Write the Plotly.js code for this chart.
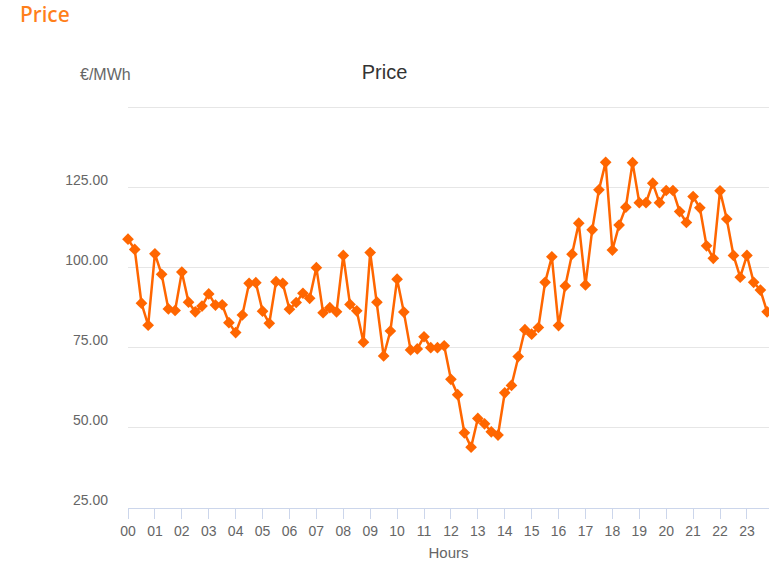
<!DOCTYPE html>
<html>
<head>
<meta charset="utf-8">
<script src="https://cdn.plot.ly/plotly-3.0.1.min.js"></script>
<style>html,body{margin:0;padding:0;background:#fff;}#chart{width:769px;height:561px;}</style>
</head>
<body>
<div id="chart"></div>
<script>
// Hour tick labels
var hourLabels = ['00','01','02','03','04','05','06','07','08','09','10','11',
                  '12','13','14','15','16','17','18','19','20','21','22','23'];
var hourTicks = [0,1,2,3,4,5,6,7,8,9,10,11,12,13,14,15,16,17,18,19,20,21,22,23];

// Quarter-hour slot positions (hours)
var slots = [
  0,0.25,0.5,0.75, 1,1.25,1.5,1.75, 2,2.25,2.5,2.75, 3,3.25,3.5,3.75,
  4,4.25,4.5,4.75, 5,5.25,5.5,5.75, 6,6.25,6.5,6.75, 7,7.25,7.5,7.75,
  8,8.25,8.5,8.75, 9,9.25,9.5,9.75, 10,10.25,10.5,10.75, 11,11.25,11.5,11.75,
  12,12.25,12.5,12.75, 13,13.25,13.5,13.75, 14,14.25,14.5,14.75, 15,15.25,15.5,15.75,
  16,16.25,16.5,16.75, 17,17.25,17.5,17.75, 18,18.25,18.5,18.75, 19,19.25,19.5,19.75,
  20,20.25,20.5,20.75, 21,21.25,21.5,21.75, 22,22.25,22.5,22.75, 23,23.25,23.5,23.75
];

// Price €/MWh per quarter hour
var price = [
  109.0,105.8,89.0,82.1, 104.4,98.0,87.2,86.7, 98.7,89.3,86.3,88.1, 91.9,88.4,88.5,82.9,
  79.8,85.3,95.2,95.4, 86.5,82.7,95.7,95.2, 87.1,89.2,92.1,90.5, 100.1,86.0,87.6,86.3,
  103.9,88.6,86.6,76.8, 104.8,89.3,72.5,80.3, 96.5,86.2,74.4,74.7, 78.5,75.1,75.1,75.7,
  65.2,60.4,48.5,44.0, 53.0,51.3,48.8,47.8, 61.0,63.3,72.3,80.7, 79.3,81.4,95.5,103.5,
  82.0,94.4,104.3,114.0, 94.7,111.9,124.4,133.0, 105.6,113.4,119.0,132.9, 120.4,120.4,126.5,120.4,
  124.2,124.2,117.6,114.2, 122.3,118.8,106.9,103.0, 124.1,115.3,103.9,97.1, 103.9,95.5,93.1,86.3
];

var yTicks = [25,50,75,100,125,150];
var yLabels = ['25.00','50.00','75.00','100.00','125.00',''];

var trace = {
  x: slots,
  y: price,
  type: 'scatter',
  mode: 'lines+markers',
  line: {color: '#ff6600', width: 2.5},
  marker: {symbol: 'diamond', size: 9, color: '#ff6600'},
  cliponaxis: false,
  hoverinfo: 'x+y'
};

var plotTop = 106, plotH = 402;

var layout = {
  width: 769,
  height: 561,
  margin: {l: 128, r: 0, t: plotTop, b: 53, pad: 0},
  paper_bgcolor: '#ffffff',
  plot_bgcolor: '#ffffff',
  showlegend: false,
  font: {family: 'Liberation Sans, Arial, sans-serif', color: '#666666', size: 14},
  title: {
    text: 'Price',
    font: {family: 'Liberation Sans, Arial, sans-serif', size: 20, color: '#333333'},
    x: 0.5, xref: 'container', xanchor: 'center',
    y: 1 - 72/561, yref: 'container', yanchor: 'middle'
  },
  xaxis: {
    range: [0, 23.82],
    tickmode: 'array',
    tickvals: hourTicks,
    ticktext: hourLabels,
    showgrid: false,
    zeroline: false,
    showline: true,
    linecolor: '#ccd6eb',
    linewidth: 1,
    ticks: 'outside',
    ticklen: 10,
    tickcolor: '#ccd6eb',
    tickwidth: 1,
    tickfont: {size: 14, color: '#666666'},
    title: {text: 'Hours', font: {size: 15, color: '#666666'}, standoff: 9},
    fixedrange: true
  },
  yaxis: {
    range: [25, 150.6],
    tickmode: 'array',
    tickvals: yTicks,
    ticktext: yLabels,
    showgrid: true,
    gridcolor: '#e6e6e6',
    gridwidth: 1,
    zeroline: false,
    showline: false,
    ticks: '',
    ticklabelstandoff: 19,
    ticklabelshift: -8,
    tickfont: {size: 14, color: '#666666'},
    fixedrange: true
  },
  annotations: [
    {
      text: '€/MWh', xref: 'paper', yref: 'paper',
      x: (105 - 128) / 641, y: 1 + (plotTop - 75) / plotH,
      xanchor: 'center', yanchor: 'middle', showarrow: false,
      font: {family: 'Liberation Sans, Arial, sans-serif', size: 16, color: '#666666'}
    },
    {
      text: 'Price', xref: 'paper', yref: 'paper',
      x: (19 - 128) / 641, y: 1 + (plotTop - 14) / plotH,
      xanchor: 'left', yanchor: 'middle', showarrow: false, borderpad: 0,
      font: {family: 'Noto Sans, sans-serif', size: 21, weight: 500, color: '#ff7f1a'}
    }
  ]
};

Plotly.newPlot('chart', [trace], layout, {displayModeBar: false, staticPlot: true});
</script>
</body>
</html>
